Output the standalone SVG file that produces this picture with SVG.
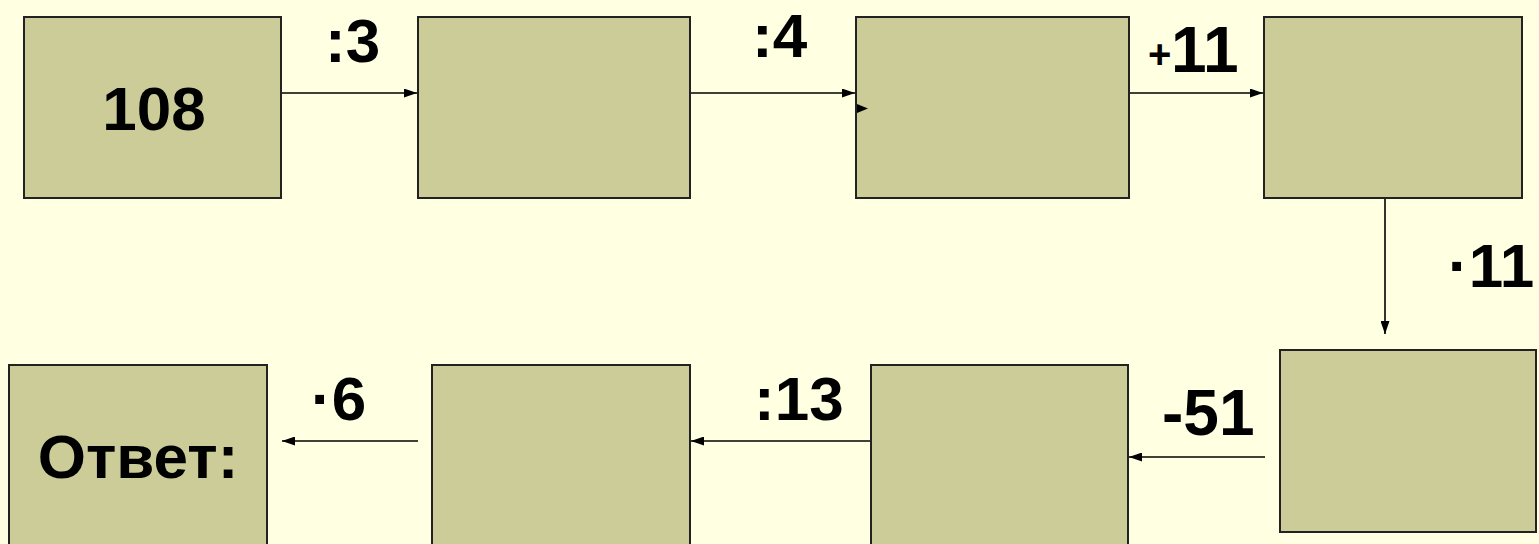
<svg xmlns="http://www.w3.org/2000/svg" width="1539" height="544" viewBox="0 0 1539 544">
<style>
.box{fill:#CCCC99;stroke:#222;stroke-width:2}
.lbl{font-family:"Liberation Sans",Arial,sans-serif;font-weight:bold;fill:#000;font-size:62px}
.conn{stroke:#000;stroke-width:1.6;fill:none;marker-end:url(#ah)}
</style>
<defs>
<marker id="ah" markerWidth="13" markerHeight="9" refX="13" refY="4.5" orient="auto" markerUnits="userSpaceOnUse">
<path d="M0,0 L13,4.5 L0,9 Z" fill="#000"/>
</marker>
</defs>
<rect x="0" y="0" width="1539" height="544" fill="#FFFFE1"/>
<g id="n1"><rect class="box" x="24" y="17" width="257" height="181"/><text class="lbl" x="154" y="130" text-anchor="middle">108</text></g>
<g id="n2"><rect class="box" x="418" y="17" width="272" height="181"/></g>
<g id="n3"><rect class="box" x="856" y="17" width="273" height="181"/></g>
<g id="n4"><rect class="box" x="1264" y="17" width="258" height="181"/></g>
<g id="n5"><rect class="box" x="1280" y="350" width="256" height="182"/></g>
<g id="n6"><rect class="box" x="871" y="365" width="257" height="190"/></g>
<g id="n7"><rect class="box" x="432" y="365" width="258" height="190"/></g>
<g id="n8"><rect class="box" x="9" y="365" width="258" height="190"/><text class="lbl" x="138" y="478" text-anchor="middle">Ответ:</text></g>
<g id="connectors">
<line class="conn" x1="282" y1="93" x2="417" y2="93"/>
<line class="conn" x1="691" y1="93" x2="855" y2="93"/>
<line class="conn" x1="1130" y1="93" x2="1263" y2="93"/>
<line class="conn" x1="1385" y1="199" x2="1385" y2="334"/>
<line class="conn" x1="1265" y1="457" x2="1129" y2="457"/>
<line class="conn" x1="870" y1="441" x2="691" y2="441"/>
<line class="conn" x1="418" y1="441" x2="282" y2="441"/>
<path d="M857,104 L868,108.5 L857,113 Z" fill="#000"/>
</g>
<g id="labels">
<text class="lbl" x="325" y="62">:3</text>
<text class="lbl" x="752" y="57">:4</text>
<text class="lbl" x="1148" y="68" style="font-size:40px">+</text>
<text class="lbl" x="1171" y="72" style="font-size:64px">11</text>
<text class="lbl" x="1448" y="287">·11</text>
<text class="lbl" x="1162" y="435" style="font-size:64px">-51</text>
<text class="lbl" x="754" y="420">:13</text>
<text class="lbl" x="311" y="420">·6</text>
</g>
</svg>
